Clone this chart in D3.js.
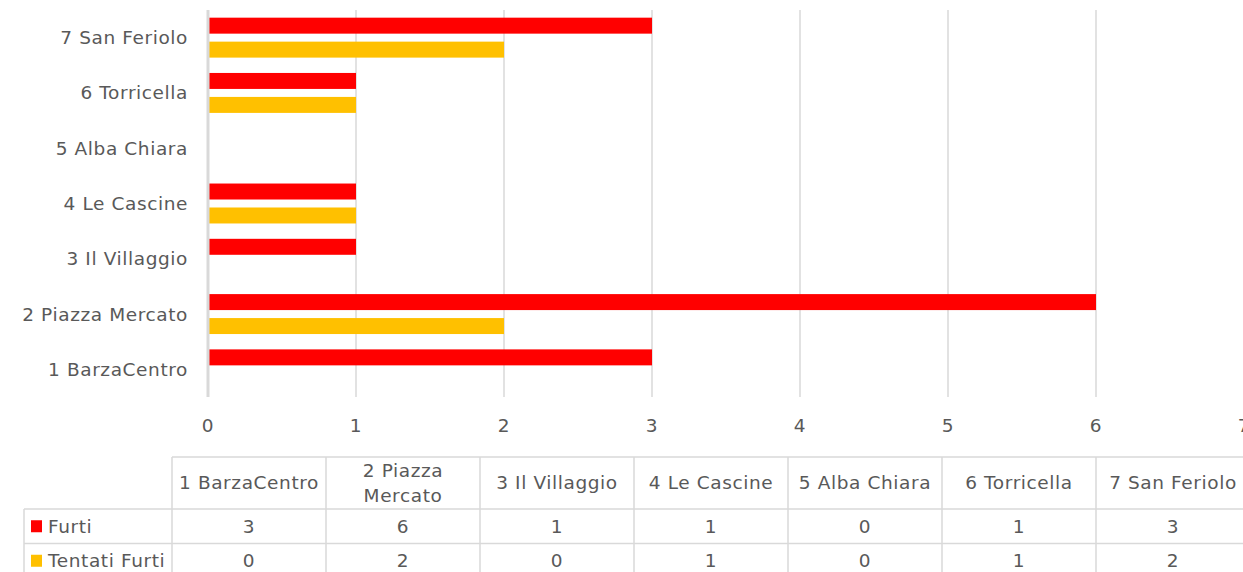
<!DOCTYPE html>
<html>
<head>
<meta charset="utf-8">
<script src="https://cdn.jsdelivr.net/npm/d3@7"></script>
<style>
  body { margin: 0; background: #fff; }
  svg text { font-family: "DejaVu Sans", sans-serif; fill: #595959; letter-spacing: 0.6px; }
</style>
</head>
<body>
<svg id="chart" width="1243" height="572"></svg>
<script>
const categories = ["1 BarzaCentro", "2 Piazza Mercato", "3 Il Villaggio", "4 Le Cascine", "5 Alba Chiara", "6 Torricella", "7 San Feriolo"];
const furti = [3, 6, 1, 1, 0, 1, 3];
const tentatiFurti = [0, 2, 0, 1, 0, 1, 2];
const seriesNames = ["Furti", "Tentati Furti"];
const xTicks = [0, 1, 2, 3, 4, 5, 6, 7];

const colors = { "Furti": "#FF0000", "Tentati Furti": "#FFC000" };
const gridColor = "#d9d9d9";
const fontSize = 18.5;

const series = [
    { name: "Furti", values: furti },
    { name: "Tentati Furti", values: tentatiFurti }
];

const svg = d3.select("#chart");

// plot area
const plot = { left: 208, right: 1244, top: 10, bottom: 397 };

const x = d3.scaleLinear()
    .domain([0, 7])
    .range([plot.left, plot.right]);

// category 1 at the bottom, 7 on top
const y = d3.scaleBand()
    .domain(categories.slice().reverse())
    .range([plot.top, plot.bottom]);

const ySeries = d3.scaleBand()
    .domain(seriesNames)
    .range([0, y.bandwidth()])
    .paddingInner(1 / 3)
    .paddingOuter(0.32);

// gridlines
svg.append("g")
    .selectAll("line")
    .data(xTicks.filter(d => d > 0))
    .enter().append("line")
    .attr("x1", d => x(d))
    .attr("x2", d => x(d))
    .attr("y1", plot.top)
    .attr("y2", plot.bottom)
    .attr("stroke", gridColor)
    .attr("stroke-width", 1.5);

// bars
const groups = svg.append("g")
    .selectAll("g")
    .data(series)
    .enter().append("g")
    .attr("fill", d => colors[d.name]);

groups.selectAll("rect")
    .data(s => s.values.map((v, i) => ({ name: s.name, cat: categories[i], value: v })))
    .enter().append("rect")
    .attr("x", x(0))
    .attr("y", d => y(d.cat) + ySeries(d.name))
    .attr("width", d => x(d.value) - x(0))
    .attr("height", ySeries.bandwidth());

// vertical axis line
svg.append("line")
    .attr("x1", x(0))
    .attr("x2", x(0))
    .attr("y1", plot.top)
    .attr("y2", plot.bottom)
    .attr("stroke", gridColor)
    .attr("stroke-width", 3);

// category labels
svg.append("g")
    .selectAll("text")
    .data(categories)
    .enter().append("text")
    .attr("x", 188)
    .attr("y", d => y(d) + y.bandwidth() / 2)
    .attr("dy", "0.35em")
    .attr("text-anchor", "end")
    .style("font-size", fontSize + "px")
    .text(d => d);

// x tick labels
svg.append("g")
    .selectAll("text")
    .data(xTicks)
    .enter().append("text")
    .attr("x", d => x(d))
    .attr("y", 426)
    .attr("dy", "0.35em")
    .attr("text-anchor", "middle")
    .style("font-size", fontSize + "px")
    .text(d => d);

// data table
const table = { left: 172, labelLeft: 24, top: 457, headerBottom: 509, rowH: 34.5 };
const col = d3.scaleBand()
    .domain(categories)
    .range([table.left, table.left + 7 * 154]);

const rowTop = i => table.headerBottom + i * table.rowH;
const tableBottom = rowTop(series.length);

const tg = svg.append("g");

// horizontal lines
tg.append("line")
    .attr("x1", table.left).attr("x2", 1243)
    .attr("y1", table.top).attr("y2", table.top);
tg.selectAll(".hrow")
    .data(d3.range(series.length + 1))
    .enter().append("line")
    .attr("class", "hrow")
    .attr("x1", table.labelLeft).attr("x2", 1243)
    .attr("y1", d => rowTop(d)).attr("y2", d => rowTop(d));

// vertical lines
tg.append("line")
    .attr("x1", table.labelLeft).attr("x2", table.labelLeft)
    .attr("y1", table.headerBottom).attr("y2", tableBottom);
tg.selectAll(".vcol")
    .data(categories)
    .enter().append("line")
    .attr("class", "vcol")
    .attr("x1", d => col(d)).attr("x2", d => col(d))
    .attr("y1", table.top).attr("y2", tableBottom);
tg.selectAll("line")
    .attr("stroke", gridColor)
    .attr("stroke-width", 1.5);

// header cells (wrap long names)
const headerLines = d => (d === "2 Piazza Mercato" ? ["2 Piazza", "Mercato"] : [d]);
tg.selectAll(".head")
    .data(categories)
    .enter().append("text")
    .attr("class", "head")
    .attr("text-anchor", "middle")
    .style("font-size", fontSize + "px")
    .each(function(d) {
        const lines = headerLines(d);
        const mid = (table.top + table.headerBottom) / 2;
        const lh = 25;
        lines.forEach((l, i) => {
            d3.select(this).append("tspan")
                .attr("x", col(d) + col.bandwidth() / 2)
                .attr("y", mid + (i - (lines.length - 1) / 2) * lh)
                .attr("dy", "0.35em")
                .text(l);
        });
    });

// rows
series.forEach((s, r) => {
    const cy = rowTop(r) + table.rowH / 2;
    tg.append("rect")
        .attr("x", 31)
        .attr("y", cy - 6)
        .attr("width", 11)
        .attr("height", 12)
        .attr("fill", colors[s.name]);
    tg.append("text")
        .attr("x", 48)
        .attr("y", cy)
        .attr("dy", "0.35em")
        .style("font-size", fontSize + "px")
        .text(s.name);
    tg.selectAll(".v" + r)
        .data(s.values)
        .enter().append("text")
        .attr("x", (d, i) => col(categories[i]) + col.bandwidth() / 2)
        .attr("y", cy)
        .attr("dy", "0.35em")
        .attr("text-anchor", "middle")
        .style("font-size", fontSize + "px")
        .text(d => d);
});
</script>
</body>
</html>
